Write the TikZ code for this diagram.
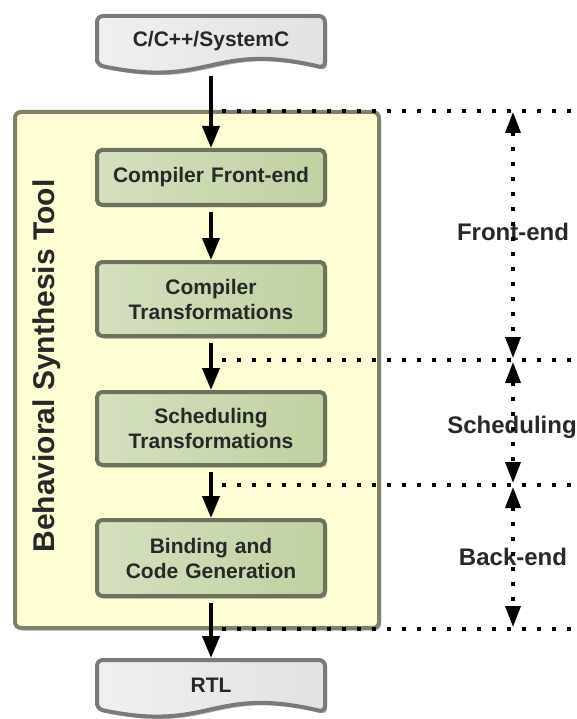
\documentclass[tikz,border=0pt]{standalone}
\usepackage{fontspec}
\setmainfont{Liberation Sans}
\usetikzlibrary{arrows.meta,shadows,calc}
\definecolor{txt}{RGB}{40,40,40}
\definecolor{yfill}{RGB}{254,253,212}
\definecolor{ydraw}{RGB}{128,128,104}
\definecolor{gfillA}{RGB}{212,224,190}
\definecolor{gfillB}{RGB}{192,209,162}
\definecolor{gdraw}{RGB}{107,115,94}
\definecolor{dfillA}{RGB}{240,240,240}
\definecolor{dfillB}{RGB}{226,226,226}
\definecolor{ddraw}{RGB}{122,122,122}
\begin{document}
\begin{tikzpicture}[x=1pt,y=-1pt,
  shad/.style={drop shadow={shadow xshift=2pt,shadow yshift=-2.5pt,opacity=0.3,fill=black}},
  stepbox/.style={draw=gdraw,line width=4pt,rounded corners=5pt,left color=gfillA,right color=gfillB,
    minimum width=228pt,text width=220pt,align=center,inner sep=0pt,
    font=\fontsize{21}{25}\selectfont\bfseries,text=txt,shad},
  toolbox/.style={draw=ydraw,line width=4pt,rounded corners=6pt,fill=yfill,
    minimum width=364pt,minimum height=516pt,shad},
  docshape/.style={draw=ddraw,line width=4pt,rounded corners=6pt,left color=dfillA,right color=dfillB,shad},
  doctext/.style={minimum width=228pt,minimum height=50pt,outer sep=2pt,inner sep=0pt,
    font=\fontsize{21}{25}\selectfont\bfseries,text=txt},
  flow/.style={line width=4pt,-{Triangle[length=22pt,width=17pt]}},
  dotline/.style={line width=3.5pt,dash pattern=on 3.5pt off 11.5pt},
  dimarrow/.style={line width=3.5pt,dash pattern=on 3.5pt off 11.5pt,
    {Triangle[length=21pt,width=15pt]}-{Triangle[length=21pt,width=15pt]}},
  phase/.style={font=\fontsize{24}{28}\selectfont\bfseries,text=txt},
  toollabel/.style={font=\fontsize{30}{34}\selectfont\bfseries,text=txt,rotate=90}
]
\useasboundingbox (0,0) rectangle (577,719);

% tool container
\node[toolbox] (tool) at (197,370) {};
\node[toollabel] (vl) at (47,366) {Behavioral Synthesis Tool};

% source document
\coordinate (srcc) at (211,41);
\draw[docshape] ($(srcc)+(-114,24)$) -- ($(srcc)+(-114,-25)$) -- ($(srcc)+(114,-25)$) -- ($(srcc)+(114,27)$)
  .. controls ($(srcc)+(0,0)$) and ($(srcc)+(0,48)$) .. cycle;
\node[doctext] (src) at (srcc) {C/C++/SystemC};

% RTL document
\coordinate (rtlc) at (211,685);
\draw[docshape] ($(rtlc)+(-114,24)$) -- ($(rtlc)+(-114,-25)$) -- ($(rtlc)+(114,-25)$) -- ($(rtlc)+(114,27)$)
  .. controls ($(rtlc)+(0,0)$) and ($(rtlc)+(0,48)$) .. cycle;
\node[doctext] (rtl) at (rtlc) {RTL};

% steps
\node[stepbox,minimum height=55pt] (fe) at (211,177.5) {Compiler Front-end};
\node[stepbox,minimum height=74pt] (ct) at (211,299) {Compiler\\Transformations};
\node[stepbox,minimum height=73pt] (st) at (211,428.5) {Scheduling\\Transformations};
\node[stepbox,minimum height=76pt] (bc) at (211,558) {Binding and\\Code Generation};

% flow arrows
\draw[flow,shorten <=8pt] (src.south) -- (fe.north);
\draw[flow,shorten <=5pt] (fe.south) -- (ct.north);
\draw[flow,shorten <=5pt] (ct.south) -- (st.north);
\draw[flow,shorten <=5pt] (st.south) -- (bc.north);
\draw[flow,shorten <=5pt] (bc.south) -- (rtl.north);

% phase boundaries
\coordinate (h1a) at (222,111); \coordinate (h1b) at (580,111);
\coordinate (h2a) at (222,360); \coordinate (h2b) at (580,360);
\coordinate (h3a) at (222,485); \coordinate (h3b) at (580,485);
\coordinate (h4a) at (222,629); \coordinate (h4b) at (580,629);
\draw[dotline] (h1a) -- (h1b);
\draw[dotline] (h2a) -- (h2b);
\draw[dotline] (h3a) -- (h3b);
\draw[dotline] (h4a) -- (h4b);

% phase labels
\node[phase] (lfe) at (513,232) {Front-end};
\node[phase] (lsc) at (512,427) {Scheduling};
\node[phase] (lbe) at (513,557) {Back-end};

% dimension arrows
\coordinate (d1) at (513,112);
\coordinate (d2a) at (513,358);
\coordinate (d2b) at (513,362);
\coordinate (d3a) at (513,483);
\coordinate (d3b) at (513,487);
\coordinate (d4) at (513,627);
\draw[dimarrow] (d1) -- (d2a);
\draw[dimarrow] (d2b) -- (d3a);
\draw[dimarrow] (d3b) -- (d4);
\end{tikzpicture}
\end{document}
